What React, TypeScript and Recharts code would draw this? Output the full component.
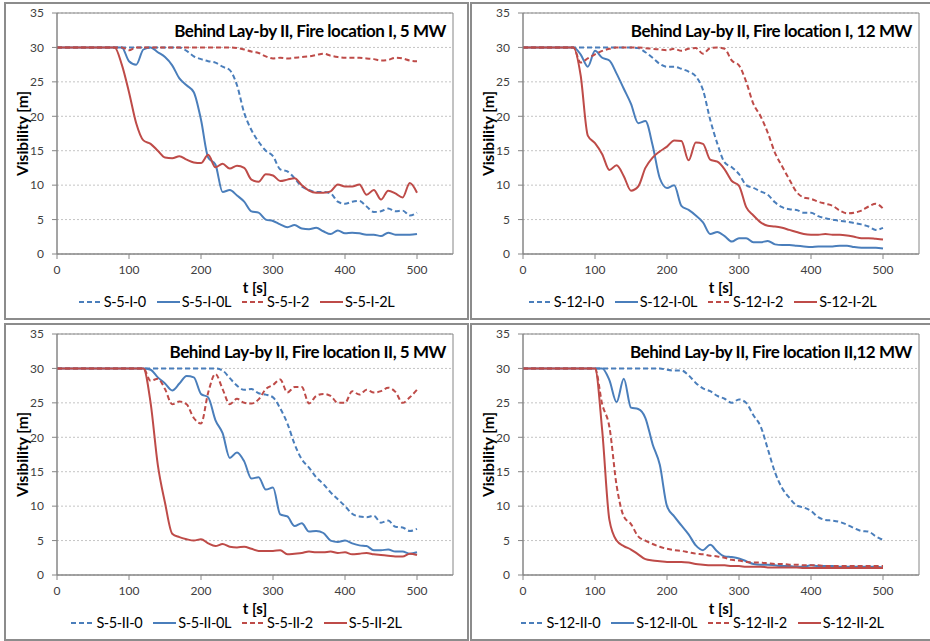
import { CartesianGrid, Legend, Line, LineChart, ReferenceArea, XAxis, YAxis } from "recharts";

const FONT = "Lato, 'Open Sans', sans-serif";
const BLUE = "#4a7ebb";
const RED = "#be4b48";
const AXIS_GREY = "#868686";

// time in seconds
const T = [
  0, 10, 20, 30, 40, 50, 60, 70, 80, 90, 100, 110, 120, 130, 140, 150, 160, 170, 180, 190, 200, 210, 220, 230, 240,
  250, 260, 270, 280, 290, 300, 310, 320, 330, 340, 350, 360, 370, 380, 390, 400, 410, 420, 430, 440, 450, 460, 470,
  480, 490, 500,
];
const X_TICKS = [0, 100, 200, 300, 400, 500];
const Y_TICKS = [0, 5, 10, 15, 20, 25, 30, 35];

// Fire location I, 5 MW
const S5_I_0 = [
  30, 30, 30, 30, 30, 30, 30, 30, 30, 30, 30, 30, 30, 30, 30, 30, 30, 30,
  29.5, 28.7, 28.3, 28, 27.8, 27.2, 26.7, 24.5, 20.5, 18,
  16.3, 15, 14.2, 12.3, 12, 11, 9.8, 9.3, 9, 9,
  8.8, 7.6, 7.3, 7.6, 7.7, 6.9, 6.1, 6.2, 6.6, 6.2,
  6.3, 5.6, 6,
];
const S5_I_0L = [
  30, 30, 30, 30, 30, 30, 30, 30, 30, 30,
  28, 27.5, 29.7, 30, 29.3, 28.6, 27.4, 25.5, 24.5, 23.5,
  19.5, 14, 13, 9, 9.3, 8.5, 7.6, 6.2, 6, 5,
  4.8, 4.3, 3.9, 4.2, 3.7, 3.6, 3.8, 3.3, 2.9, 3.4,
  3.0, 3.1, 3.0, 2.8, 2.8, 2.6, 3.1, 2.8, 2.8, 2.8,
  2.9,
];
const S5_I_2 = [
  30, 30, 30, 30, 30, 30, 30, 30, 30, 30,
  29.6, 30, 30, 30, 30, 30, 30, 30, 30, 30, 30, 30, 30, 30, 30,
  29.9, 29.7, 29.4, 29.2, 28.7, 28.4, 28.5, 28.4, 28.5, 28.6,
  28.7, 28.9, 29.1, 28.8, 28.6, 28.5, 28.5, 28.5, 28.4, 28.3,
  28.1, 28.2, 28.5, 28.4, 28.1, 28.0,
];
const S5_I_2L = [
  30, 30, 30, 30, 30, 30, 30, 30, 30,
  27.5, 23.5, 19, 16.5, 16, 15, 14, 13.9, 14.2, 13.7,
  13.3, 13.2, 14.4, 12.6, 13.1, 12.4, 12.8, 12.5, 10.8, 10.5,
  11.6, 11.4, 10.6, 10.8, 11, 10, 9.2, 8.9, 8.9, 9.1,
  10.1, 9.8, 9.8, 10.1, 8.6, 9.3, 7.9, 9.2, 8.8, 8.2,
  10.3, 8.9,
];

// Fire location I, 12 MW
const S12_I_0 = [
  30, 30, 30, 30, 30, 30, 30, 30, 30, 30, 30, 30, 30, 30, 30, 30,
  29.9, 29.3, 28.5, 27.6, 27.2, 27.2, 26.9, 26.5, 25.8, 23.8,
  19.5, 16, 13.3, 12.6, 11.6, 10, 9.6, 9.1, 8.6, 7.5,
  6.8, 6.5, 6.4, 6, 6, 5.5, 5.2, 5, 4.8, 4.7,
  4.5, 4.3, 4, 3.5, 3.8,
];
const S12_I_0L = [
  30, 30, 30, 30, 30, 30, 30, 30,
  29, 27.2, 29.5, 28.5, 28.1, 26.2, 24, 21.8, 19, 19.3,
  15.8, 11, 9.6, 10, 7, 6.4, 5.6, 4.6, 2.9, 3.2,
  2.6, 1.8, 2.3, 2.3, 1.7, 1.7, 1.9, 1.4, 1.3, 1.3,
  1.2, 1.1, 1.0, 1.1, 1.1, 1.1, 1.2, 1.2, 1.0, 0.9,
  0.9, 0.9, 0.8,
];
const S12_I_2 = [
  30, 30, 30, 30, 30, 30, 30, 30,
  27.8, 28.4, 29, 29.5, 29.8, 30, 30, 30, 30, 29.9,
  29.8, 29.7, 29.6, 29.8, 29.5, 29.8, 29.9, 29.1, 29.9, 30,
  29.8, 28.1, 27.4, 25, 21.8, 20, 17.6, 14.7, 12.7, 10.8,
  9, 8.2, 8, 7.6, 7.3, 7, 6.3, 5.9, 6, 6.3,
  6.9, 7.3, 6.6,
];
const S12_I_2L = [
  30, 30, 30, 30, 30, 30, 30, 30,
  26, 17.2, 16.1, 14.5, 12.2, 12.9, 11.3, 9.2, 9.8, 12.5,
  14, 14.9, 15.6, 16.5, 16.4, 13.6, 16.2, 16, 13.7, 13.4,
  12.3, 10.6, 9.9, 6.8, 5.6, 4.6, 4.1, 4, 3.8, 3.5,
  3.2, 2.9, 2.8, 2.8, 2.9, 2.8, 2.8, 2.7, 2.5, 2.3,
  2.3, 2.2, 2.1,
];

// Fire location II, 5 MW
const S5_II_0 = [
  30, 30, 30, 30, 30, 30, 30, 30, 30, 30, 30, 30, 30, 30, 30, 30, 30, 30, 30, 30, 30, 30, 30,
  29.7, 28.6, 27.5, 26.9, 27, 26.4, 26.2, 25.8, 24.2, 22,
  19, 16.8, 15.6, 14.2, 13.2, 12, 11, 10, 8.9, 8.5,
  8.4, 8.6, 7.6, 7.9, 7, 6.9, 6.4, 6.7,
];
const S5_II_0L = [
  30, 30, 30, 30, 30, 30, 30, 30, 30, 30, 30, 30, 30,
  29.8, 28.7, 27.8, 26.8, 27.8, 28.9, 28.7, 26.3, 25.8, 22.5,
  20.6, 17, 17.8, 16.5, 14, 14.2, 12.4, 12.7, 8.8, 8.5,
  7.1, 7.5, 6.3, 6.4, 6.1, 5, 4.8, 5, 4.6, 4.3,
  4.2, 3.6, 3.6, 3.7, 3.4, 3.4, 3.1, 3.3,
];
const S5_II_2 = [
  30, 30, 30, 30, 30, 30, 30, 30, 30, 30, 30, 30, 30,
  28.2, 28.5, 27, 24.8, 25.2, 24.8, 22.8, 22, 26.5, 29.2,
  27, 24.8, 25.6, 25, 24.9, 25.5, 27, 27.6, 28.4, 26.5,
  27.3, 27.3, 24.9, 26, 26.3, 26, 25, 25, 26.7, 26.2,
  26.9, 26.5, 26.7, 27.2, 26.6, 25, 25.8, 26.9,
];
const S5_II_2L = [
  30, 30, 30, 30, 30, 30, 30, 30, 30, 30, 30, 30, 30,
  25, 16, 10.5, 6, 5.5, 5.2, 5, 5.2, 4.6, 4.2,
  4.5, 4.1, 4, 4.1, 3.8, 3.5, 3.5, 3.5, 3.6, 3.0,
  3.1, 3.2, 3.4, 3.3, 3.3, 3.4, 3.2, 3.3, 3.0, 3.1,
  3.2, 3.0, 2.9, 2.8, 2.7, 2.7, 3.1, 2.9,
];

// Fire location II, 12 MW
const S12_II_0 = [
  30, 30, 30, 30, 30, 30, 30, 30, 30, 30, 30, 30, 30, 30, 30, 30, 30, 30, 30, 30,
  29.8, 29.7, 29.7, 29, 27.9, 27.1, 26.7, 26, 25.6, 25,
  25.5, 25, 23.2, 21.6, 18.3, 14.9, 12.6, 11.2, 10.1, 9.8,
  9.3, 8.4, 8, 7.9, 7.7, 7.3, 6.8, 6.4, 6.3, 5.6,
  5.1,
];
const S12_II_0L = [
  30, 30, 30, 30, 30, 30, 30, 30, 30, 30, 30, 30,
  28.3, 25.1, 28.5, 24.3, 24.1, 22.8, 19, 16, 10, 8.5,
  7.2, 5.9, 4.3, 3.6, 4.4, 3.4, 2.7, 2.6, 2.4, 2,
  1.6, 1.5, 1.5, 1.4, 1.3, 1.3, 1.2, 1.2, 1.4, 1.3,
  1.3, 1.3, 1.2, 1.2, 1.2, 1.2, 1.2, 1.2, 1.1,
];
const S12_II_2 = [
  30, 30, 30, 30, 30, 30, 30, 30, 30, 30, 30,
  24.8, 21.5, 13, 8.5, 7.4, 5.6, 5, 4.5, 4.1, 3.8,
  3.6, 3.5, 3.3, 3.1, 3, 2.8, 2.7, 2.5, 2.2, 2.1,
  1.9, 1.8, 1.8, 1.7, 1.6, 1.6, 1.5, 1.5, 1.4, 1.4,
  1.4, 1.3, 1.3, 1.3, 1.3, 1.3, 1.3, 1.3, 1.3, 1.3,
];
const S12_II_2L = [
  30, 30, 30, 30, 30, 30, 30, 30, 30, 30, 30,
  21, 8, 5, 4.2, 3.7, 3, 2.3, 2.1, 2, 1.9,
  1.9, 1.9, 1.8, 1.6, 1.5, 1.4, 1.4, 1.4, 1.3, 1.3,
  1.2, 1.2, 1.2, 1.1, 1.1, 1.1, 1.1, 1.1, 1.0, 1.0,
  1.0, 1.0, 1.0, 1.0, 1.0, 1.0, 1.0, 1.0, 1.0, 1.0,
];

interface Series {
  name: string;
  values: number[];
  color: string;
  dashed: boolean;
}

interface PanelDef {
  title: string;
  left: number;
  top: number;
  series: Series[];
}

const PANELS: PanelDef[] = [
  {
    title: "Behind Lay-by II, Fire location I, 5 MW",
    left: 4,
    top: 2,
    series: [
      { name: "S-5-I-0", values: S5_I_0, color: BLUE, dashed: true },
      { name: "S-5-I-0L", values: S5_I_0L, color: BLUE, dashed: false },
      { name: "S-5-I-2", values: S5_I_2, color: RED, dashed: true },
      { name: "S-5-I-2L", values: S5_I_2L, color: RED, dashed: false },
    ],
  },
  {
    title: "Behind Lay-by II, Fire location I, 12 MW",
    left: 470,
    top: 2,
    series: [
      { name: "S-12-I-0", values: S12_I_0, color: BLUE, dashed: true },
      { name: "S-12-I-0L", values: S12_I_0L, color: BLUE, dashed: false },
      { name: "S-12-I-2", values: S12_I_2, color: RED, dashed: true },
      { name: "S-12-I-2L", values: S12_I_2L, color: RED, dashed: false },
    ],
  },
  {
    title: "Behind Lay-by II, Fire location II, 5 MW",
    left: 4,
    top: 323,
    series: [
      { name: "S-5-II-0", values: S5_II_0, color: BLUE, dashed: true },
      { name: "S-5-II-0L", values: S5_II_0L, color: BLUE, dashed: false },
      { name: "S-5-II-2", values: S5_II_2, color: RED, dashed: true },
      { name: "S-5-II-2L", values: S5_II_2L, color: RED, dashed: false },
    ],
  },
  {
    title: "Behind Lay-by II, Fire location II,12 MW",
    left: 470,
    top: 323,
    series: [
      { name: "S-12-II-0", values: S12_II_0, color: BLUE, dashed: true },
      { name: "S-12-II-0L", values: S12_II_0L, color: BLUE, dashed: false },
      { name: "S-12-II-2", values: S12_II_2, color: RED, dashed: true },
      { name: "S-12-II-2L", values: S12_II_2L, color: RED, dashed: false },
    ],
  },
];

const DASH = "5 3";

function PanelLegend({ series }: { series: Series[] }) {
  return (
    <div
      style={{
        display: "flex",
        justifyContent: "center",
        gap: 11,
        fontFamily: FONT,
        fontSize: 14.5,
        letterSpacing: -0.4,
        lineHeight: "18px",
        color: "#000",
      }}
    >
      {series.map((s) => (
        <span key={s.name} style={{ display: "flex", alignItems: "center" }}>
          <svg width={23} height={10}>
            <line
              x1={0}
              y1={5}
              x2={23}
              y2={5}
              stroke={s.color}
              strokeWidth={2}
              strokeDasharray={s.dashed ? DASH : undefined}
            />
          </svg>
          <span style={{ marginLeft: 2 }}>{s.name}</span>
        </span>
      ))}
    </div>
  );
}

function Panel({ panel }: { panel: PanelDef }) {
  const data = T.map((t, i) => {
    const row: Record<string, number> = { t };
    panel.series.forEach((s) => {
      row[s.name] = s.values[i];
    });
    return row;
  });

  return (
    <div
      style={{
        position: "absolute",
        left: panel.left,
        top: panel.top,
        width: 465,
        height: 318,
        border: "2px solid #8c8c8c",
        boxSizing: "border-box",
        background: "#fff",
      }}
    >
      <LineChart width={461} height={314} data={data} margin={{ top: 9, right: 14, bottom: 0, left: 0 }}>
        <CartesianGrid vertical={false} stroke="#c4c4c4" strokeDasharray="2 2" />
        <ReferenceArea x1={0} x2={550} y1={0} y2={35} fill="none" stroke={AXIS_GREY} strokeWidth={1} />
        <XAxis
          dataKey="t"
          type="number"
          domain={[0, 550]}
          ticks={X_TICKS}
          height={64}
          tickSize={5}
          tickMargin={6}
          stroke={AXIS_GREY}
          tick={{ fill: "#404040", fontSize: 12, fontFamily: FONT }}
          label={{
            value: "t [s]",
            position: "insideTop",
            offset: 28,
            style: { fontFamily: FONT, fontSize: 15, fontWeight: 700, fill: "#000" },
          }}
        />
        <YAxis
          type="number"
          domain={[0, 35]}
          ticks={Y_TICKS}
          width={51}
          tickSize={5}
          tickMargin={8}
          stroke={AXIS_GREY}
          tick={{ fill: "#404040", fontSize: 12, fontFamily: FONT }}
          label={{
            value: "Visibility [m]",
            angle: -90,
            position: "insideLeft",
            offset: 16,
            style: { fontFamily: FONT, fontSize: 15.5, fontWeight: 700, fill: "#000", textAnchor: "middle" },
          }}
        />
        <Legend
          layout="horizontal"
          verticalAlign="middle"
          align="center"
          wrapperStyle={{ top: 289, left: 0, width: 461 }}
          content={() => <PanelLegend series={panel.series} />}
        />
        {panel.series.map((s) => (
          <Line
            key={s.name}
            type="monotone"
            dataKey={s.name}
            name={s.name}
            stroke={s.color}
            strokeWidth={2}
            strokeDasharray={s.dashed ? DASH : undefined}
            dot={false}
            activeDot={false}
            isAnimationActive={false}
          />
        ))}
      </LineChart>
      <div
        style={{
          position: "absolute",
          right: 21,
          top: 18,
          fontFamily: FONT,
          fontSize: 17,
          fontWeight: 700,
          letterSpacing: -0.45,
          lineHeight: 1,
          color: "#000",
          whiteSpace: "nowrap",
        }}
      >
        {panel.title}
      </div>
    </div>
  );
}

export default function App() {
  return (
    <div
      style={{
        position: "absolute",
        left: 0,
        top: 0,
        width: 930,
        height: 641,
        overflow: "hidden",
        background: "#fff",
      }}
    >
      {PANELS.map((p) => (
        <Panel key={p.title} panel={p} />
      ))}
    </div>
  );
}
